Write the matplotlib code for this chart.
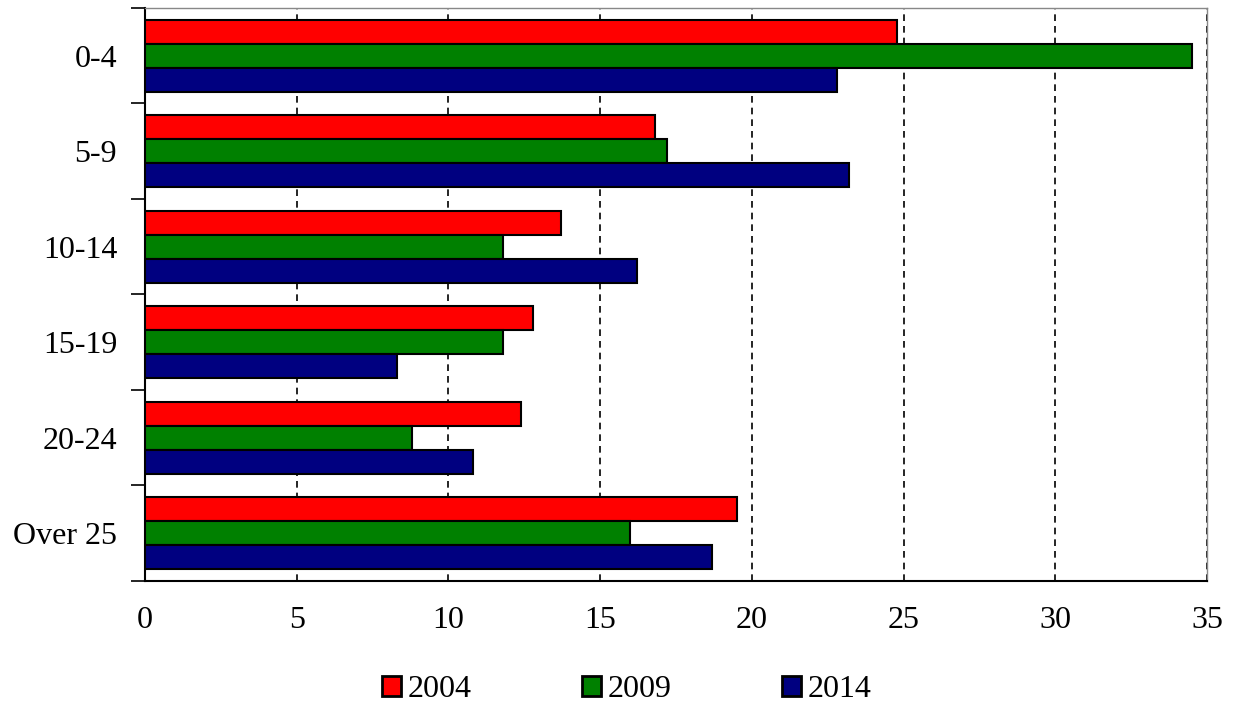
import numpy as np
import matplotlib.pyplot as plt
from matplotlib.ticker import FixedLocator, NullFormatter

plt.rcParams['font.family'] = ['Liberation Serif', 'DejaVu Serif']

ages = ["0-4", "5-9", "10-14", "15-19", "20-24", "Over 25"]
years = ["2004", "2009", "2014"]
v2004 = [24.8, 16.8, 13.7, 12.8, 12.4, 19.5]
v2009 = [34.5, 17.2, 11.8, 11.8, 8.8, 16.0]
v2014 = [22.8, 23.2, 16.2, 8.3, 10.8, 18.7]
colors = ["#ff0000", "#008000", "#000080"]

fig = plt.figure(figsize=(12.36, 7.05), dpi=100)
ax = fig.add_axes([0.1173, 0.1759, 0.8592, 0.8128])

idx = np.arange(len(ages))
h = 0.25
for k, (vals, yr) in enumerate(zip([v2004, v2009, v2014], years)):
    ax.barh(idx + (k - 1) * h, vals, height=h, color=colors[k], edgecolor="black",
            linewidth=1.5, label=yr, zorder=3)

ax.set_xlim(0, 35)
ax.set_ylim(len(ages) - 0.5, -0.5)
ax.set_xticks(np.arange(0, 36, 5))
ax.xaxis.grid(True, linestyle=(0, (4, 3)), color="black", linewidth=1.2, zorder=1)

# major ticks at category boundaries, labels at centres
ax.yaxis.set_major_locator(FixedLocator(np.arange(-0.5, len(ages), 1)))
ax.yaxis.set_major_formatter(NullFormatter())
ax.yaxis.set_minor_locator(FixedLocator(idx))
ax.set_yticklabels(ages, minor=True)
ax.tick_params(axis="y", which="major", length=10, width=1.2, direction="out")
ax.tick_params(axis="y", which="minor", length=0, pad=20, labelsize=23)
ax.tick_params(axis="x", length=0, pad=18, labelsize=23)

for s in ["left", "bottom"]:
    ax.spines[s].set_linewidth(1.5)
for s in ["top", "right"]:
    ax.spines[s].set_color("#888888")
    ax.spines[s].set_linewidth(1.0)

leg = fig.legend(loc="lower center", bbox_to_anchor=(0.507, -0.04), ncol=3, frameon=False,
                 fontsize=23, handlelength=0.6, handleheight=0.6, handletextpad=0.2,
                 columnspacing=3.45)
for p in leg.get_patches():
    p.set_linewidth(2)

fig.savefig("out.png", dpi=100)
